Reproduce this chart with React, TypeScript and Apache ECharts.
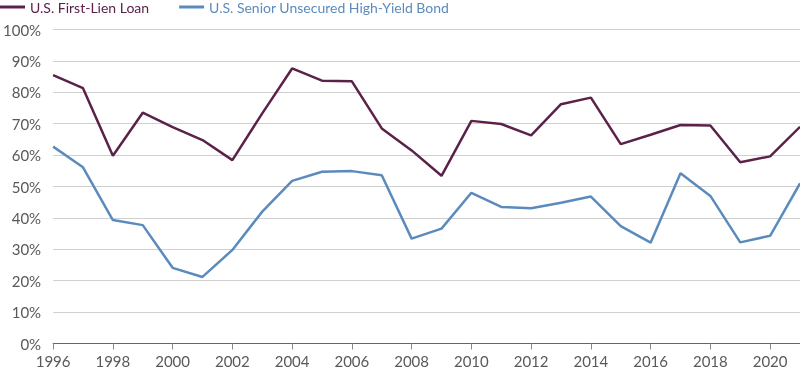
import React, { useEffect, useRef } from "react";
import * as echarts from "echarts";

const years = ["1996","1997","1998","1999","2000","2001","2002","2003","2004","2005","2006","2007","2008","2009","2010","2011","2012","2013","2014","2015","2016","2017","2018","2019","2020","2021"];
const firstLienLoan = [85.5, 81.3, 59.8, 73.5, 68.9, 64.8, 58.4, 73.3, 87.6, 83.7, 83.5, 68.5, 61.5, 53.4, 70.9, 69.9, 66.3, 76.2, 78.3, 63.5, 66.5, 69.6, 69.4, 57.7, 59.6, 69.0];
const highYieldBond = [62.7, 56.1, 39.3, 37.7, 24.1, 21.2, 29.8, 42.0, 51.8, 54.7, 54.9, 53.6, 33.4, 36.6, 48.0, 43.5, 43.1, 44.8, 46.8, 37.4, 32.1, 54.2, 47.0, 32.2, 34.3, 51.0];
const seriesNames = ["U.S. First-Lien Loan", "U.S. Senior Unsecured High-Yield Bond"];

const PURPLE = "#5a2248";
const BLUE = "#5b8bbd";
const FONT = "Lato";

export default function App() {
  const ref = useRef<HTMLDivElement>(null);
  useEffect(() => {
    if (!ref.current) return;
    const chart = echarts.init(ref.current, undefined, { renderer: "svg" });
    chart.setOption({
      animation: false,
      textStyle: { fontFamily: FONT },
      legend: {
        left: 0,
        top: 0,
        padding: 0,
        itemWidth: 25,
        itemHeight: 3,
        itemGap: 30,
        icon: "rect",
        data: [
          { name: seriesNames[0], textStyle: { color: PURPLE } },
          { name: seriesNames[1], textStyle: { color: BLUE } },
        ],
        textStyle: { fontSize: 14, fontFamily: FONT },
      },
      grid: { left: 50, right: 0, top: 29.5, bottom: 31.5, containLabel: false },
      xAxis: {
        type: "category",
        boundaryGap: false,
        data: years,
        axisLine: { lineStyle: { color: "#666666", width: 1 } },
        axisTick: { interval: 1, length: 6, lineStyle: { color: "#888888" } },
        axisLabel: { interval: 1, color: "#595959", fontSize: 15, fontFamily: FONT, margin: 10 },
        splitLine: { show: false },
      },
      yAxis: {
        type: "value",
        min: 0,
        max: 100,
        interval: 10,
        axisLine: { show: false },
        axisTick: { show: false },
        axisLabel: { formatter: "{value}%", color: "#595959", fontSize: 15, fontFamily: FONT, margin: 12 },
        splitLine: { lineStyle: { color: "#d0d0d0", width: 1 } },
      },
      series: [
        {
          name: seriesNames[0],
          type: "line",
          data: firstLienLoan,
          symbol: "none",
          lineStyle: { color: PURPLE, width: 2.5 },
          itemStyle: { color: PURPLE },
        },
        {
          name: seriesNames[1],
          type: "line",
          data: highYieldBond,
          symbol: "none",
          lineStyle: { color: BLUE, width: 2.5 },
          itemStyle: { color: BLUE },
        },
      ],
    });
    return () => chart.dispose();
  }, []);
  return <div ref={ref} style={{ width: 800, height: 375, position: "fixed", left: 0, top: 0 }} />;
}
